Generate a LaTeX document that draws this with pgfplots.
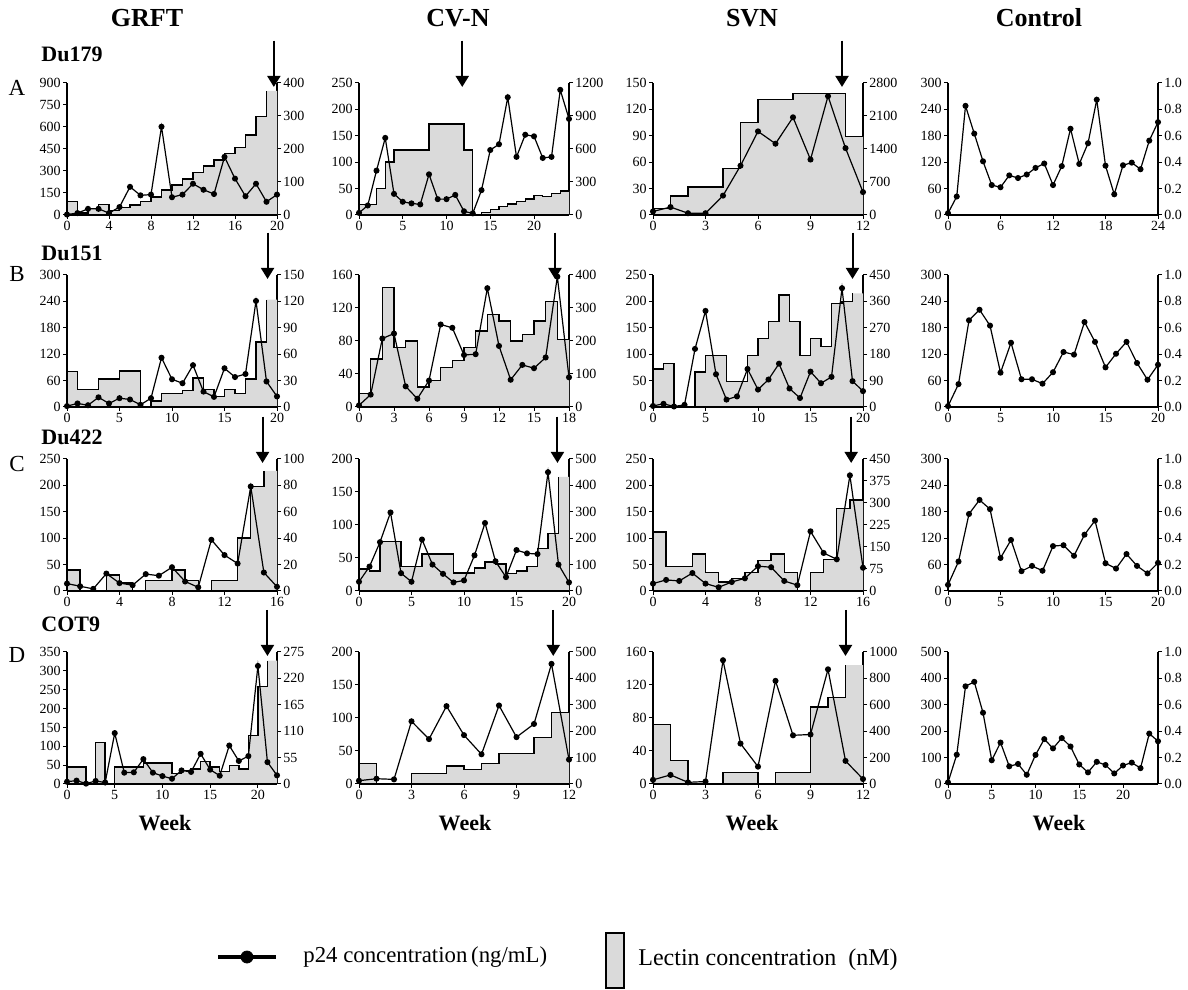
\documentclass[border=0pt]{standalone}
\usepackage{fontspec}
\setmainfont{Liberation Serif}
\usepackage{pgfplots}
\pgfplotsset{compat=1.18}
\usetikzlibrary{arrows.meta}
\definecolor{lectgray}{RGB}{218,218,218}

\pgfplotsset{
 base/.style={scale only axis, width=105pt, height=66pt, xmin=0, ymin=0, anchor=south west, clip=false,
   axis line style={line width=0.6pt}, tick style={line width=0.5pt, black}, tick align=outside, major tick length=2pt,
   ticklabel style={font=\fontsize{7}{7}\selectfont, inner sep=1pt},
   /pgf/number format/assume math mode=true, /pgf/number format/1000 sep={},
   scaled ticks=false},
 leftax/.style={base, axis x line*=bottom, axis y line*=left},
 rightax/.style={base, axis y line*=right, axis x line=none},
 pline/.style={black, line width=0.6pt, mark=*, mark size=1.2pt, mark options={solid}},
 ctrlright/.style={rightax, ymax=1, ytick={0,0.2,0.4,0.6,0.8,1},
   yticklabel style={/pgf/number format/fixed, /pgf/number format/fixed zerofill, /pgf/number format/precision=1}},
}
\newcommand{\lectin}[2]{%
  \addplot[const plot, fill=lectgray, draw=none] coordinates {#1} \closedcycle;
  \addplot[const plot, black, line width=0.7pt] coordinates {#2};
}
\newcommand{\arr}[1]{\draw[line width=1pt, -{Triangle[length=5.5pt, width=6.5pt]}] ({axis cs:#1,0} |- {rel axis cs:0,1.32}) -- ({axis cs:#1,0} |- {rel axis cs:0,0.97});}

\begin{document}
\begin{tikzpicture}
\path[use as bounding box] (0,0) rectangle (594pt,495pt);

% ================= ROW A =================
% GRFT A
\begin{axis}[rightax, at={(33.5pt,387.5pt)}, xmax=20, ymax=400, ytick={0,100,200,300,400}]
\lectin{(0,40)(1,6)(2,19)(3,32)(4,14)(5,22)(6,30)(7,40)(8,54)(9,76)(10,91)(11,109)(12,129)(13,149)(14,167)(15,187)(16,204)(17,242)(18,299)(19,376)(20,376)}
{(0,40)(1,6)(2,19)(3,32)(4,14)(5,22)(6,30)(7,40)(8,54)(9,76)(10,91)(11,109)(12,129)(13,149)(14,167)(15,187)(16,204)(17,242)(18,299)(19,376)}
\end{axis}
\begin{axis}[leftax, at={(33.5pt,387.5pt)}, xmax=20, xtick={0,4,...,20}, ymax=900, ytick={0,150,...,900}]
\addplot[pline] coordinates {(0,3)(1,13)(2,42)(3,42)(4,13)(5,54)(6,192)(7,134)(8,139)(9,602)(10,121)(11,139)(12,213)(13,172)(14,143)(15,396)(16,248)(17,128)(18,213)(19,90)(20,139)};
\arr{19.7}
\end{axis}
% CV-N A
\begin{axis}[rightax, at={(179.5pt,387.5pt)}, xmax=24, ymax=1200, ytick={0,300,600,900,1200}]
\lectin{(0,96)(2,240)(3,480)(4,590)(8,826)(12,590)(13,0)(14,20)(15,50)(16,75)(17,100)(18,122)(19,146)(20,176)(21,170)(22,194)(23,218)(24,218)}
{(0,96)(2,240)(3,480)(4,590)(8,826)(12,590)(13,0)(14,20)(15,50)(16,75)(17,100)(18,122)(19,146)(20,176)(21,170)(22,194)(23,218)(24,218)}
\end{axis}
\begin{axis}[leftax, at={(179.5pt,387.5pt)}, xmax=24, xtick={0,5,...,20}, ymax=250, ytick={0,50,...,250}]
\addplot[pline] coordinates {(0,4)(1,18)(2,84)(3,146)(4,40)(5,25)(6,22)(7,20)(8,77)(9,30)(10,30)(11,38)(12,7)(13,3)(14,47)(15,123)(16,134)(17,223)(18,110)(19,152)(20,149)(21,108)(22,110)(23,237)(24,182)};
\arr{11.8}
\end{axis}
% SVN A
\begin{axis}[rightax, at={(326.5pt,387.5pt)}, xmax=12, ymax=2800, ytick={0,700,1400,2100,2800}]
\lectin{(0,140)(1,400)(2,595)(4,980)(5,1960)(6,2450)(8,2580)(11,1665)(12,1665)}
{(0,140)(1,400)(2,595)(4,980)(5,1960)(6,2450)(8,2580)(11,1665)(12,1665)}
\end{axis}
\begin{axis}[leftax, at={(326.5pt,387.5pt)}, xmax=12, xtick={0,3,...,12}, ymax=150, ytick={0,30,...,150}]
\addplot[pline] coordinates {(0,4)(1,9)(2,2)(3,2)(4,22)(5,56)(6,95)(7,81)(8,111)(9,63)(10,135)(11,76)(12,26)};
\arr{10.8}
\end{axis}
% Control A
\begin{axis}[ctrlright, at={(474pt,387.5pt)}, xmax=24]
\end{axis}
\begin{axis}[leftax, at={(474pt,387.5pt)}, xmax=24, xtick={0,6,...,24}, ymax=300, ytick={0,60,...,300}]
\addplot[pline] coordinates {(0,4)(1,42)(2,248)(3,185)(4,122)(5,68)(6,63)(7,90)(8,84)(9,92)(10,107)(11,117)(12,68)(13,111)(14,196)(15,116)(16,163)(17,262)(18,112)(19,47)(20,113)(21,119)(22,104)(23,169)(24,211)};
\end{axis}

% ================= ROW B =================
% GRFT B
\begin{axis}[rightax, at={(33.5pt,291.5pt)}, xmax=20, ymax=150, ytick={0,30,...,150}]
\lectin{(0,40)(1,20)(3,32)(5,41)(7,0)(8,7)(9,15)(11,19)(12,33)(13,20)(14,12)(15,20)(16,15)(17,32)(18,74)(19,122)(20,122)}
{(0,40)(1,20)(3,32)(5,41)(7,0)(8,7)(9,15)(11,19)(12,33)(13,20)(14,12)(15,20)(16,15)(17,32)(18,74)(19,122)}
\end{axis}
\begin{axis}[leftax, at={(33.5pt,291.5pt)}, xmax=20, xtick={0,5,...,20}, ymax=300, ytick={0,60,...,300}]
\addplot[pline] coordinates {(0,2)(1,8)(2,4)(3,22)(4,8)(5,20)(6,17)(7,5)(8,20)(9,112)(10,63)(11,54)(12,95)(13,35)(14,23)(15,88)(16,68)(17,75)(18,241)(19,58)(20,24)};
\arr{19.1}
\end{axis}
% CV-N B
\begin{axis}[rightax, at={(179.5pt,291.5pt)}, xmax=18, ymax=400, ytick={0,100,...,400}]
\lectin{(0,40)(1,145)(2,363)(3,180)(4,200)(5,60)(6,80)(7,120)(8,140)(9,180)(10,230)(11,280)(12,260)(13,200)(14,220)(15,260)(16,320)(17,205)(18,205)}
{(0,40)(1,145)(2,363)(3,180)(4,200)(5,60)(6,80)(7,120)(8,140)(9,180)(10,230)(11,280)(12,260)(13,200)(14,220)(15,260)(16,320)(17,205)(18,205)}
\end{axis}
\begin{axis}[leftax, at={(179.5pt,291.5pt)}, xmax=18, xtick={0,3,...,18}, ymax=160, ytick={0,40,...,160}]
\addplot[pline] coordinates {(0,2)(1,15)(2,83)(3,89)(4,25)(5,10)(6,32)(7,100)(8,96)(9,63)(10,64)(11,144)(12,74)(13,33)(14,51)(15,47)(16,60)(17,158)(18,36)};
\arr{16.8}
\end{axis}
% SVN B
\begin{axis}[rightax, at={(326.5pt,291.5pt)}, xmax=20, ymax=450, ytick={0,90,...,450}]
\lectin{(0,130)(1,148)(2,0)(4,119)(5,176)(7,86)(9,176)(10,234)(11,292)(12,382)(13,292)(14,176)(15,234)(16,207)(17,353)(18,360)(19,387)(20,387)}
{(0,130)(1,148)(2,0)(4,119)(5,176)(7,86)(9,176)(10,234)(11,292)(12,382)(13,292)(14,176)(15,234)(16,207)(17,353)(18,360)(19,387)}
\end{axis}
\begin{axis}[leftax, at={(326.5pt,291.5pt)}, xmax=20, xtick={0,5,...,20}, ymax=250, ytick={0,50,...,250}]
\addplot[pline] coordinates {(0,2)(1,6)(2,1)(3,4)(4,110)(5,182)(6,62)(7,14)(8,20)(9,72)(10,33)(11,52)(12,82)(13,35)(14,17)(15,67)(16,45)(17,57)(18,225)(19,49)(20,30)};
\arr{19.0}
\end{axis}
% Control B
\begin{axis}[ctrlright, at={(474pt,291.5pt)}, xmax=20]
\end{axis}
\begin{axis}[leftax, at={(474pt,291.5pt)}, xmax=20, xtick={0,5,...,20}, ymax=300, ytick={0,60,...,300}]
\addplot[pline] coordinates {(0,2)(1,52)(2,197)(3,221)(4,185)(5,78)(6,146)(7,63)(8,63)(9,53)(10,79)(11,125)(12,119)(13,193)(14,148)(15,90)(16,121)(17,148)(18,100)(19,62)(20,96)};
\end{axis}

% ================= ROW C =================
% GRFT C
\begin{axis}[rightax, at={(33.5pt,199.5pt)}, xmax=16, ymax=100, ytick={0,20,...,100}]
\lectin{(0,16)(1,0)(3,12)(4,6)(5,0)(6,8)(8,16)(9,8)(10,0)(11,8)(13,40)(14,79)(15,91)(16,91)}
{(0,16)(1,0)(3,12)(4,6)(5,0)(6,8)(8,16)(9,8)(10,0)(11,8)(13,40)(14,79)(15,91)}
\end{axis}
\begin{axis}[leftax, at={(33.5pt,199.5pt)}, xmax=16, xtick={0,4,...,16}, ymax=250, ytick={0,50,...,250}]
\addplot[pline] coordinates {(0,14)(1,9)(2,4)(3,33)(4,15)(5,11)(6,32)(7,29)(8,45)(9,18)(10,7)(11,97)(12,68)(13,52)(14,198)(15,35)(16,8)};
\arr{14.9}
\end{axis}
% CV-N C
\begin{axis}[rightax, at={(179.5pt,199.5pt)}, xmax=20, ymax=500, ytick={0,100,...,500}]
\lectin{(0,83)(1,75)(2,188)(4,92)(6,140)(9,68)(11,87)(12,110)(13,102)(14,67)(15,75)(16,92)(17,160)(18,218)(19,432)(20,432)}
{(0,83)(1,75)(2,188)(4,92)(6,140)(9,68)(11,87)(12,110)(13,102)(14,67)(15,75)(16,92)(17,160)(18,218)(19,432)}
\end{axis}
\begin{axis}[leftax, at={(179.5pt,199.5pt)}, xmax=20, xtick={0,5,...,20}, ymax=200, ytick={0,50,...,200}]
\addplot[pline] coordinates {(0,14)(1,37)(2,74)(3,119)(4,27)(5,14)(6,78)(7,40)(8,26)(9,13)(10,16)(11,54)(12,103)(13,45)(14,21)(15,62)(16,57)(17,56)(18,180)(19,40)(20,13)};
\arr{18.9}
\end{axis}
% SVN C
\begin{axis}[rightax, at={(326.5pt,199.5pt)}, xmax=16, ymax=450, ytick={0,75,...,450}]
\lectin{(0,201)(1,83)(3,126)(4,63)(5,31)(6,43)(7,63)(8,104)(9,126)(10,63)(11,0)(12,63)(13,108)(14,281)(15,310)(16,310)}
{(0,201)(1,83)(3,126)(4,63)(5,31)(6,43)(7,63)(8,104)(9,126)(10,63)(11,0)(12,63)(13,108)(14,281)(15,310)(16,310)}
\end{axis}
\begin{axis}[leftax, at={(326.5pt,199.5pt)}, xmax=16, xtick={0,4,...,16}, ymax=250, ytick={0,50,...,250}]
\addplot[pline] coordinates {(0,14)(1,21)(2,19)(3,34)(4,14)(5,7)(6,17)(7,24)(8,47)(9,45)(10,19)(11,11)(12,113)(13,72)(14,60)(15,219)(16,44)};
\arr{15.1}
\end{axis}
% Control C
\begin{axis}[ctrlright, at={(474pt,199.5pt)}, xmax=20]
\end{axis}
\begin{axis}[leftax, at={(474pt,199.5pt)}, xmax=20, xtick={0,5,...,20}, ymax=300, ytick={0,60,...,300}]
\addplot[pline] coordinates {(0,14)(1,67)(2,175)(3,207)(4,186)(5,75)(6,116)(7,45)(8,57)(9,46)(10,102)(11,104)(12,80)(13,128)(14,160)(15,63)(16,51)(17,84)(18,57)(19,40)(20,64)};
\end{axis}

% ================= ROW D =================
% GRFT D
\begin{axis}[rightax, at={(33.5pt,103pt)}, xmax=22, ymax=275, ytick={0,55,...,275}]
\lectin{(0,35)(2,0)(3,86)(4,0)(5,35)(8,44)(11,22)(12,28)(13,31)(14,47)(15,35)(16,26)(17,39)(18,31)(19,101)(20,203)(21,257)(22,257)}
{(0,35)(2,0)(3,86)(4,0)(5,35)(8,44)(11,22)(12,28)(13,31)(14,47)(15,35)(16,26)(17,39)(18,31)(19,101)(20,203)(21,257)}
\end{axis}
\begin{axis}[leftax, at={(33.5pt,103pt)}, xmax=22, xtick={0,5,...,20}, ymax=350, ytick={0,50,...,350}]
\addplot[pline] coordinates {(0,6)(1,9)(2,1)(3,8)(4,4)(5,135)(6,30)(7,31)(8,66)(9,30)(10,21)(11,14)(12,36)(13,32)(14,80)(15,38)(16,22)(17,102)(18,61)(19,74)(20,313)(21,58)(22,23)};
\arr{21.0}
\end{axis}
% CV-N D
\begin{axis}[rightax, at={(179.5pt,103pt)}, xmax=12, ymax=500, ytick={0,100,...,500}]
\lectin{(0,78)(1,0)(3,39)(5,68)(6,56)(7,78)(8,116)(10,175)(11,271)(12,271)}
{(0,78)(1,0)(3,39)(5,68)(6,56)(7,78)(8,116)(10,175)(11,271)(12,271)}
\end{axis}
\begin{axis}[leftax, at={(179.5pt,103pt)}, xmax=12, xtick={0,3,...,12}, ymax=200, ytick={0,50,...,200}]
\addplot[pline] coordinates {(0,5)(1,8)(2,7)(3,95)(4,68)(5,118)(6,74)(7,45)(8,119)(9,71)(10,91)(11,182)(12,37)};
\arr{11.1}
\end{axis}
% SVN D
\begin{axis}[rightax, at={(326.5pt,103pt)}, xmax=12, ymax=1000, ytick={0,200,...,1000}]
\lectin{(0,450)(1,180)(2,0)(4,88)(6,0)(7,88)(9,583)(10,653)(11,900)(12,900)}
{(0,450)(1,180)(2,0)(4,88)(6,0)(7,88)(9,583)(10,653)(11,900)}
\end{axis}
\begin{axis}[leftax, at={(326.5pt,103pt)}, xmax=12, xtick={0,3,...,12}, ymax=160, ytick={0,40,...,160}]
\addplot[pline] coordinates {(0,5)(1,11)(2,2)(3,3)(4,150)(5,49)(6,21)(7,125)(8,59)(9,60)(10,139)(11,28)(12,6)};
\arr{11.0}
\end{axis}
% Control D
\begin{axis}[ctrlright, at={(474pt,103pt)}, xmax=24]
\end{axis}
\begin{axis}[leftax, at={(474pt,103pt)}, xmax=24, xtick={0,5,...,20}, ymax=500, ytick={0,100,...,500}]
\addplot[pline] coordinates {(0,6)(1,111)(2,370)(3,387)(4,270)(5,90)(6,157)(7,67)(8,76)(9,35)(10,110)(11,170)(12,135)(13,174)(14,142)(15,74)(16,44)(17,84)(18,72)(19,40)(20,70)(21,81)(22,60)(23,191)(24,162)};
\end{axis}

% ================= labels and legend (page in px) =================
\begin{axis}[hide axis, scale only axis, width=594pt, height=495pt, xmin=0, xmax=1188, ymin=0, ymax=990, y dir=reverse, at={(0pt,0pt)}, anchor=south west, clip=false]
\node[font=\fontsize{13}{13}\selectfont\bfseries] at (axis cs:147,18) {GRFT};
\node[font=\fontsize{13}{13}\selectfont\bfseries] at (axis cs:458,18) {CV-N};
\node[font=\fontsize{13}{13}\selectfont\bfseries] at (axis cs:752,18) {SVN};
\node[font=\fontsize{13}{13}\selectfont\bfseries] at (axis cs:1039,18) {Control};
\node[anchor=west, inner sep=0pt, font=\fontsize{11}{11}\selectfont\bfseries] at (axis cs:41,54) {Du179};
\node[anchor=west, inner sep=0pt, font=\fontsize{11}{11}\selectfont\bfseries] at (axis cs:41,253) {Du151};
\node[anchor=west, inner sep=0pt, font=\fontsize{11}{11}\selectfont\bfseries] at (axis cs:41,437) {Du422};
\node[anchor=west, inner sep=0pt, font=\fontsize{11}{11}\selectfont\bfseries] at (axis cs:41,624) {COT9};
\node[font=\fontsize{11.5}{11.5}\selectfont] at (axis cs:17,88) {A};
\node[font=\fontsize{11.5}{11.5}\selectfont] at (axis cs:17,274) {B};
\node[font=\fontsize{11.5}{11.5}\selectfont] at (axis cs:17,464) {C};
\node[font=\fontsize{11.5}{11.5}\selectfont] at (axis cs:17,655) {D};
\node[font=\fontsize{11}{11}\selectfont\bfseries] at (axis cs:165,823) {Week};
\node[font=\fontsize{11}{11}\selectfont\bfseries] at (axis cs:465,823) {Week};
\node[font=\fontsize{11}{11}\selectfont\bfseries] at (axis cs:752,823) {Week};
\node[font=\fontsize{11}{11}\selectfont\bfseries] at (axis cs:1059,823) {Week};
% legend
\addplot[black, line width=2pt] coordinates {(218,957)(276,957)};
\addplot[black, only marks, mark=*, mark size=3pt] coordinates {(247,957)};
\node[anchor=west, inner sep=0pt, font=\fontsize{11.4}{11.4}\selectfont] at (axis cs:303,957) {p24 concentration\,(ng/mL)};
\addplot[fill=lectgray, draw=black, line width=0.8pt] coordinates {(606,933)(624,933)(624,988)(606,988)} -- cycle;
\node[anchor=west, inner sep=0pt, font=\fontsize{12}{12}\selectfont] at (axis cs:638,960) {Lectin concentration\enspace(nM)};
\end{axis}
\end{tikzpicture}
\end{document}
